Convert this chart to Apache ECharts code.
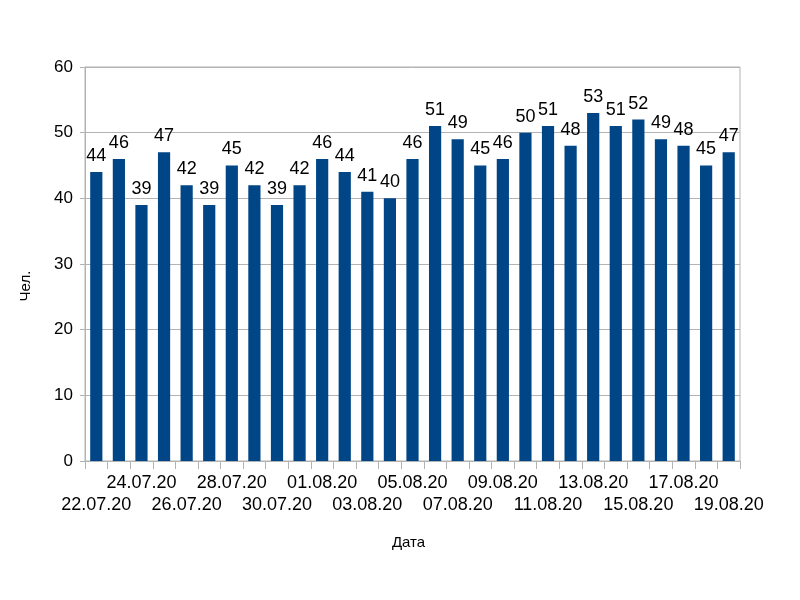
<!DOCTYPE html>
<html><head><meta charset="utf-8">
<script src="https://cdn.jsdelivr.net/npm/echarts@6/dist/echarts.min.js"></script>
<style>html,body{margin:0;padding:0;background:#fff}#c{width:800px;height:600px}</style>
</head><body><div id="c"></div>
<script>
const categories = ['22.07.20','23.07.20','24.07.20','25.07.20','26.07.20','27.07.20','28.07.20','29.07.20','30.07.20','31.07.20','01.08.20','02.08.20','03.08.20','04.08.20','05.08.20','06.08.20','07.08.20','08.08.20','09.08.20','10.08.20','11.08.20','12.08.20','13.08.20','14.08.20','15.08.20','16.08.20','17.08.20','18.08.20','19.08.20'];
const values = [44,46,39,47,42,39,45,42,39,42,46,44,41,40,46,51,49,45,46,50,51,48,53,51,52,49,48,45,47];
const yTicks = [0,10,20,30,40,50,60];
const xName = 'Дата';
const yName = 'Чел.';

const FONT = '"Liberation Sans", Arial, sans-serif';
const chart = echarts.init(document.getElementById('c'));
chart.setOption({
  animation: false,
  backgroundColor: '#fff',
  grid: {left: 85, right: 60, top: 67, bottom: 139, show: true, borderColor: '#b3b3b3', borderWidth: 1},
  xAxis: {
    type: 'category', data: categories,
    name: xName, nameLocation: 'middle', nameGap: 74,
    nameTextStyle: {fontFamily: FONT, fontSize: 15, color: '#000', padding: [0, 8, 0, 0]},
    axisLine: {lineStyle: {color: '#b3b3b3'}},
    axisTick: {show: true, interval: 0, length: 8, lineStyle: {color: '#b3b3b3'}},
    axisLabel: {
      interval: 0, margin: 11, fontFamily: FONT, fontSize: 18, color: '#000', lineHeight: 22,
      formatter: function (v, i) {
        if (i % 2 === 1) return '';
        return (i % 4 === 2) ? v : '\n' + v;
      }
    }
  },
  yAxis: {
    type: 'value', min: yTicks[0], max: yTicks[yTicks.length - 1], interval: 10,
    name: yName, nameLocation: 'middle', nameGap: 52, nameRotate: 90,
    nameTextStyle: {fontFamily: FONT, fontSize: 15, color: '#000', padding: [0, 44, 0, 0]},
    axisLine: {show: true, lineStyle: {color: '#b3b3b3'}},
    axisTick: {show: true, length: 5, lineStyle: {color: '#b3b3b3'}},
    axisLabel: {margin: 12, fontFamily: FONT, fontSize: 17, color: '#000'},
    splitLine: {show: true, lineStyle: {color: '#b3b3b3'}}
  },
  series: [{
    type: 'bar', data: values, barWidth: '54%',
    itemStyle: {color: '#004586'},
    label: {show: true, position: 'top', distance: 7, fontFamily: FONT, fontSize: 18, color: '#000'}
  }]
});
</script></body></html>
